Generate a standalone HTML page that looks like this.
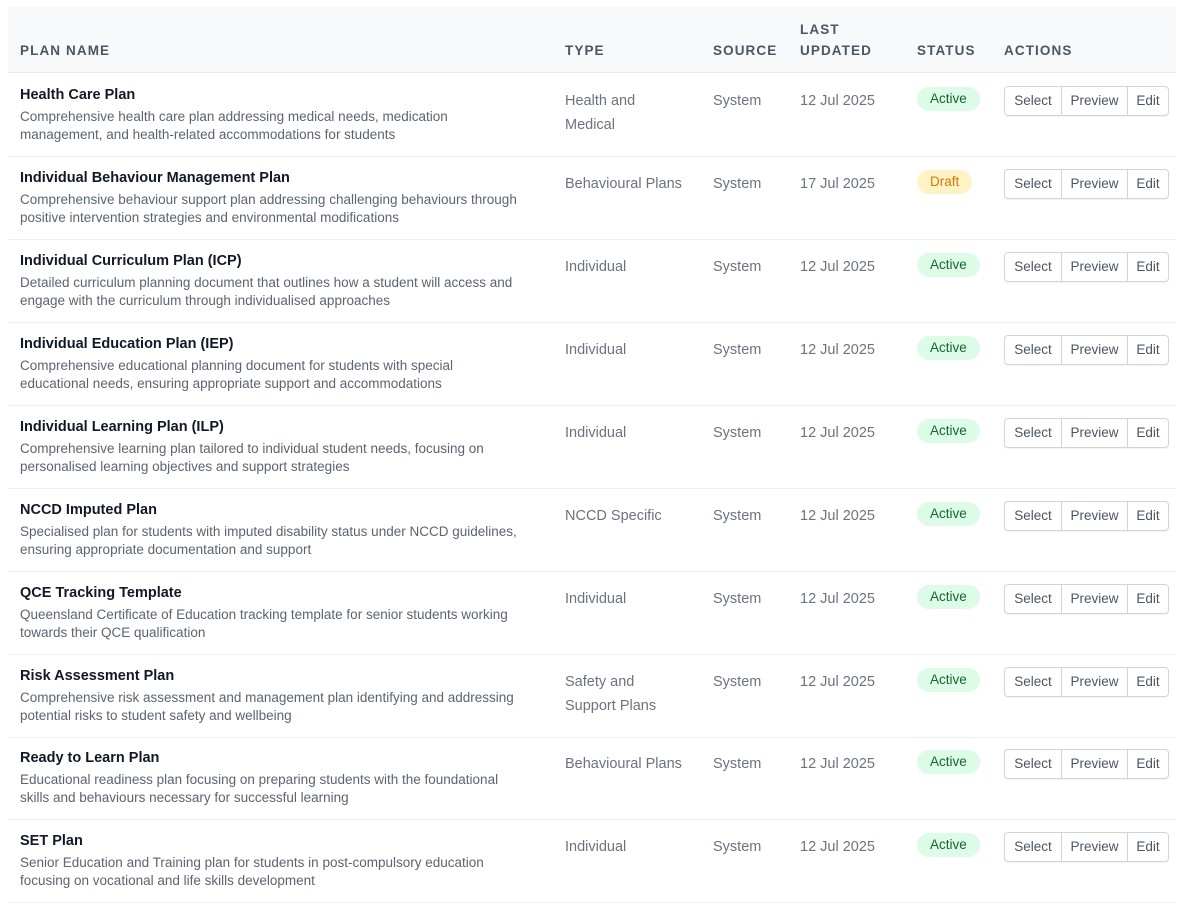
<!DOCTYPE html>
<html><head><style>
*{margin:0;padding:0;box-sizing:border-box}
body{width:1184px;height:904px;background:#fff;font-family:"Liberation Sans",sans-serif;position:relative;overflow:hidden}
.hdr{position:absolute;left:8px;top:7px;width:1168px;height:66px;background:#f8f9fb;border-bottom:1px solid #e5e7eb}
.h{position:absolute;font-size:13.5px;font-weight:bold;letter-spacing:1.1px;color:#4b5563;line-height:21px}
.row{position:absolute;left:8px;width:1168px;height:83px;border-bottom:1px solid #eef0f3}
.t{position:absolute;left:12px;top:13px;font-size:14.5px;font-weight:bold;color:#111827}
.d{position:absolute;left:12px;top:34px;width:545px;white-space:nowrap;font-size:13.5px;line-height:18px;color:#5b6472}
.c{position:absolute;top:15px;font-size:14.5px;line-height:24px;color:#6b7280}
.b{position:absolute;left:909px;top:13px;height:24px;padding:0 13px;border-radius:12px;font-size:13.5px;line-height:24px}
.a{background:#dcfce7;color:#166534}
.dr{background:#fef3c7;color:#d97706}
.btns{position:absolute;left:996px;top:12px;height:30px;border:1px solid #d1d5db;border-radius:4px;display:flex;font-size:13.5px;color:#4b5563;box-shadow:0 1px 1px rgba(0,0,0,.05)}
.btns span{text-align:center;line-height:28px;border-left:1px solid #d1d5db}
.btns span:nth-child(1){border-left:none;width:56px}
.btns span:nth-child(2){width:66px}
.btns span:nth-child(3){width:41px}
</style></head><body>
<div class="hdr"></div>
<div class="h" style="left:20px;top:40px">PLAN NAME</div>
<div class="h" style="left:565px;top:40px">TYPE</div>
<div class="h" style="left:713px;top:40px">SOURCE</div>
<div class="h" style="left:800px;top:19px">LAST<br>UPDATED</div>
<div class="h" style="left:917px;top:40px">STATUS</div>
<div class="h" style="left:1004px;top:40px">ACTIONS</div>

<div class="row" style="top:74px"><div class="t">Health Care Plan</div><div class="d">Comprehensive health care plan addressing medical needs, medication<br>management, and health-related accommodations for students</div><div class="c" style="left:557px">Health and<br>Medical</div><div class="c" style="left:705px">System</div><div class="c" style="left:792px">12 Jul 2025</div><div class="b a">Active</div><div class="btns"><span>Select</span><span>Preview</span><span>Edit</span></div></div>

<div class="row" style="top:157px"><div class="t">Individual Behaviour Management Plan</div><div class="d">Comprehensive behaviour support plan addressing challenging behaviours through<br>positive intervention strategies and environmental modifications</div><div class="c" style="left:557px">Behavioural Plans</div><div class="c" style="left:705px">System</div><div class="c" style="left:792px">17 Jul 2025</div><div class="b dr">Draft</div><div class="btns"><span>Select</span><span>Preview</span><span>Edit</span></div></div>

<div class="row" style="top:240px"><div class="t">Individual Curriculum Plan (ICP)</div><div class="d">Detailed curriculum planning document that outlines how a student will access and<br>engage with the curriculum through individualised approaches</div><div class="c" style="left:557px">Individual</div><div class="c" style="left:705px">System</div><div class="c" style="left:792px">12 Jul 2025</div><div class="b a">Active</div><div class="btns"><span>Select</span><span>Preview</span><span>Edit</span></div></div>

<div class="row" style="top:323px"><div class="t">Individual Education Plan (IEP)</div><div class="d">Comprehensive educational planning document for students with special<br>educational needs, ensuring appropriate support and accommodations</div><div class="c" style="left:557px">Individual</div><div class="c" style="left:705px">System</div><div class="c" style="left:792px">12 Jul 2025</div><div class="b a">Active</div><div class="btns"><span>Select</span><span>Preview</span><span>Edit</span></div></div>

<div class="row" style="top:406px"><div class="t">Individual Learning Plan (ILP)</div><div class="d">Comprehensive learning plan tailored to individual student needs, focusing on<br>personalised learning objectives and support strategies</div><div class="c" style="left:557px">Individual</div><div class="c" style="left:705px">System</div><div class="c" style="left:792px">12 Jul 2025</div><div class="b a">Active</div><div class="btns"><span>Select</span><span>Preview</span><span>Edit</span></div></div>

<div class="row" style="top:489px"><div class="t">NCCD Imputed Plan</div><div class="d">Specialised plan for students with imputed disability status under NCCD guidelines,<br>ensuring appropriate documentation and support</div><div class="c" style="left:557px">NCCD Specific</div><div class="c" style="left:705px">System</div><div class="c" style="left:792px">12 Jul 2025</div><div class="b a">Active</div><div class="btns"><span>Select</span><span>Preview</span><span>Edit</span></div></div>

<div class="row" style="top:572px"><div class="t">QCE Tracking Template</div><div class="d">Queensland Certificate of Education tracking template for senior students working<br>towards their QCE qualification</div><div class="c" style="left:557px">Individual</div><div class="c" style="left:705px">System</div><div class="c" style="left:792px">12 Jul 2025</div><div class="b a">Active</div><div class="btns"><span>Select</span><span>Preview</span><span>Edit</span></div></div>

<div class="row" style="top:655px"><div class="t">Risk Assessment Plan</div><div class="d">Comprehensive risk assessment and management plan identifying and addressing<br>potential risks to student safety and wellbeing</div><div class="c" style="left:557px">Safety and<br>Support Plans</div><div class="c" style="left:705px">System</div><div class="c" style="left:792px">12 Jul 2025</div><div class="b a">Active</div><div class="btns"><span>Select</span><span>Preview</span><span>Edit</span></div></div>

<div class="row" style="top:737px"><div class="t">Ready to Learn Plan</div><div class="d">Educational readiness plan focusing on preparing students with the foundational<br>skills and behaviours necessary for successful learning</div><div class="c" style="left:557px">Behavioural Plans</div><div class="c" style="left:705px">System</div><div class="c" style="left:792px">12 Jul 2025</div><div class="b a">Active</div><div class="btns"><span>Select</span><span>Preview</span><span>Edit</span></div></div>

<div class="row" style="top:820px"><div class="t">SET Plan</div><div class="d">Senior Education and Training plan for students in post-compulsory education<br>focusing on vocational and life skills development</div><div class="c" style="left:557px">Individual</div><div class="c" style="left:705px">System</div><div class="c" style="left:792px">12 Jul 2025</div><div class="b a">Active</div><div class="btns"><span>Select</span><span>Preview</span><span>Edit</span></div></div>
</body></html>
